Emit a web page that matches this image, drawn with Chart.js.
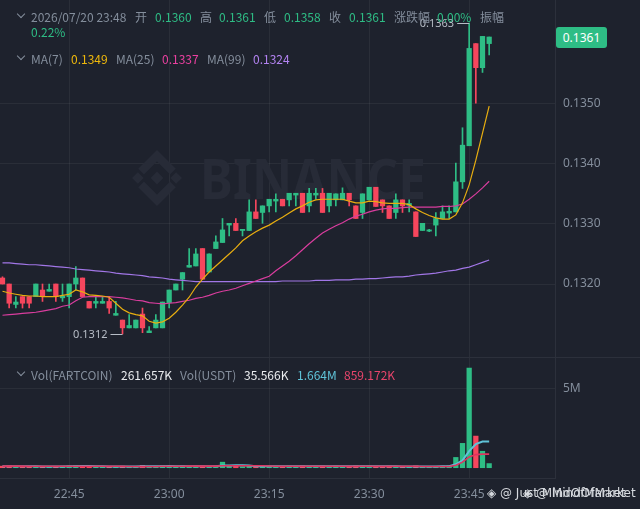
<!DOCTYPE html>
<html><head><meta charset="utf-8">
<script src="https://cdn.jsdelivr.net/npm/chart.js@4.4.1/dist/chart.umd.min.js"></script>
<style>
html,body{margin:0;padding:0;background:#1e222d;overflow:hidden;}
#wrap{position:relative;width:640px;height:509px;background:#1e222d;font-family:"Noto Sans CJK SC","Noto Sans",sans-serif;}
#pbox{position:absolute;left:0;top:0;width:640px;height:357px;}
#vbox{position:absolute;left:0;top:357px;width:640px;height:152px;}
.t{position:absolute;font-size:12px;line-height:14px;white-space:nowrap;color:#848e9c;z-index:5;}
.g{color:#2ebd85;}
.chev{position:absolute;width:5px;height:5px;border-right:1.3px solid #848e9c;border-bottom:1.3px solid #848e9c;transform:rotate(45deg);z-index:5;}
#badge{position:absolute;left:556px;top:27px;width:51px;height:21px;border-radius:3px;background:#2ebd85;color:#fff;font:12px "Noto Sans",sans-serif;line-height:21px;text-align:center;z-index:5;}
.wm{position:absolute;top:486px;font:12px "DejaVu Sans","Noto Sans",sans-serif;color:#d6d9de;white-space:nowrap;z-index:5;}
</style></head>
<body>
<div id="wrap">
 <div id="pbox"><canvas id="pc"></canvas></div>
 <div id="vbox"><canvas id="vc"></canvas></div>

 <div class="chev" style="left:18px;top:11px"></div>
 <div class="t" style="left:31px;top:10px">2026/07/20 23:48</div>
 <div class="t" style="left:135px;top:10px">开</div>
 <div class="t g" style="left:155px;top:10px">0.1360</div>
 <div class="t" style="left:200px;top:10px">高</div>
 <div class="t g" style="left:219px;top:10px">0.1361</div>
 <div class="t" style="left:264px;top:10px">低</div>
 <div class="t g" style="left:284px;top:10px">0.1358</div>
 <div class="t" style="left:329px;top:10px">收</div>
 <div class="t g" style="left:349px;top:10px">0.1361</div>
 <div class="t" style="left:394px;top:10px">涨跌幅</div>
 <div class="t g" style="left:437px;top:10px">0.00%</div>
 <div class="t" style="left:480px;top:10px">振幅</div>
 <div class="t g" style="left:31px;top:25px">0.22%</div>

 <div class="chev" style="left:18px;top:53px"></div>
 <div class="t" style="left:31px;top:52px">MA(7)</div>
 <div class="t" style="left:71px;top:52px;color:#f0b90b">0.1349</div>
 <div class="t" style="left:116px;top:52px">MA(25)</div>
 <div class="t" style="left:162px;top:52px;color:#eb40a0">0.1337</div>
 <div class="t" style="left:207px;top:52px">MA(99)</div>
 <div class="t" style="left:253px;top:52px;color:#b383f2">0.1324</div>

 <div id="badge">0.1361</div>

 <div class="chev" style="left:18px;top:369px"></div>
 <div class="t" style="left:31px;top:368px">Vol(FARTCOIN)</div>
 <div class="t" style="left:121px;top:368px;color:#eaecef">261.657K</div>
 <div class="t" style="left:180px;top:368px">Vol(USDT)</div>
 <div class="t" style="left:244px;top:368px;color:#eaecef">35.566K</div>
 <div class="t" style="left:297px;top:368px;color:#5fc3d8">1.664M</div>
 <div class="t" style="left:344px;top:368px;color:#e8456b">859.172K</div>

 <div class="wm" style="left:487px">◈ @ Just MindOfMarket</div>
 <div class="wm" style="left:523px">◈ @ MindOfMarket</div>
</div>
<script>
// ---------- data ----------
const times = ['22:35','22:36','22:37','22:38','22:39','22:40','22:41','22:42','22:43','22:44',
 '22:45','22:46','22:47','22:48','22:49','22:50','22:51','22:52','22:53','22:54',
 '22:55','22:56','22:57','22:58','22:59','23:00','23:01','23:02','23:03','23:04',
 '23:05','23:06','23:07','23:08','23:09','23:10','23:11','23:12','23:13','23:14',
 '23:15','23:16','23:17','23:18','23:19','23:20','23:21','23:22','23:23','23:24',
 '23:25','23:26','23:27','23:28','23:29','23:30','23:31','23:32','23:33','23:34',
 '23:35','23:36','23:37','23:38','23:39','23:40','23:41','23:42','23:43','23:44',
 '23:45','23:46','23:47','23:48'];
const tickLabels = ['22:45','23:00','23:15','23:30','23:45'];
const priceTicks = [0.1320,0.1330,0.1340,0.1350];
const volTicks = [5];

const openP = [0.13210,0.13200,0.13166,0.13179,0.13179,0.13179,0.13190,0.13188,0.13200,0.13177,
 0.13179,0.13200,0.13210,0.13171,0.13168,0.13168,0.13171,0.13148,0.13140,0.13127,
 0.13127,0.13150,0.13119,0.13127,0.13127,0.13169,0.13190,0.13208,0.13228,0.13230,
 0.13259,0.13220,0.13259,0.13269,0.13298,0.13301,0.13289,0.13289,0.13320,0.13319,
 0.13330,0.13338,0.13341,0.13340,0.13348,0.13351,0.13330,0.13348,0.13351,0.13330,
 0.13340,0.13340,0.13351,0.13330,0.13319,0.13340,0.13361,0.13340,0.13330,0.13319,
 0.13340,0.13331,0.13320,0.13289,0.13288,0.13298,0.13309,0.13318,0.13320,0.13370,
 0.13430,0.13600,0.13560,0.13600];
const highP = [0.13212,0.13200,0.13179,0.13179,0.13179,0.13200,0.13200,0.13200,0.13200,0.13200,
 0.13200,0.13229,0.13210,0.13171,0.13179,0.13179,0.13179,0.13171,0.13140,0.13149,
 0.13140,0.13160,0.13129,0.13149,0.13170,0.13190,0.13200,0.13219,0.13259,0.13259,
 0.13259,0.13250,0.13280,0.13309,0.13301,0.13309,0.13291,0.13340,0.13340,0.13330,
 0.13341,0.13350,0.13341,0.13351,0.13351,0.13351,0.13359,0.13359,0.13359,0.13351,
 0.13350,0.13360,0.13351,0.13330,0.13350,0.13361,0.13361,0.13340,0.13330,0.13350,
 0.13340,0.13340,0.13320,0.13301,0.13291,0.13319,0.13330,0.13330,0.13401,0.13460,
 0.13634,0.13600,0.13612,0.13611];
const lowP = [0.13200,0.13160,0.13160,0.13160,0.13160,0.13179,0.13171,0.13188,0.13171,0.13171,
 0.13160,0.13190,0.13179,0.13160,0.13160,0.13168,0.13151,0.13148,0.13117,0.13127,
 0.13127,0.13119,0.13119,0.13127,0.13127,0.13160,0.13190,0.13190,0.13228,0.13230,
 0.13208,0.13220,0.13259,0.13269,0.13280,0.13289,0.13280,0.13289,0.13309,0.13301,
 0.13320,0.13320,0.13330,0.13330,0.13330,0.13319,0.13320,0.13341,0.13319,0.13320,
 0.13330,0.13340,0.13330,0.13309,0.13309,0.13340,0.13329,0.13319,0.13309,0.13309,
 0.13319,0.13320,0.13279,0.13289,0.13287,0.13280,0.13309,0.13309,0.13320,0.13359,
 0.13430,0.13501,0.13552,0.13581];
const closeP = [0.13200,0.13168,0.13170,0.13168,0.13168,0.13200,0.13179,0.13191,0.13179,0.13180,
 0.13200,0.13210,0.13179,0.13160,0.13171,0.13171,0.13160,0.13151,0.13127,0.13131,
 0.13140,0.13127,0.13122,0.13140,0.13170,0.13190,0.13200,0.13219,0.13231,0.13250,
 0.13208,0.13250,0.13270,0.13290,0.13301,0.13289,0.13291,0.13320,0.13309,0.13330,
 0.13341,0.13341,0.13330,0.13351,0.13351,0.13319,0.13351,0.13351,0.13319,0.13351,
 0.13350,0.13351,0.13340,0.13309,0.13350,0.13361,0.13329,0.13330,0.13309,0.13340,
 0.13330,0.13334,0.13279,0.13301,0.13290,0.13309,0.13320,0.13321,0.13370,0.13431,
 0.13592,0.13560,0.13612,0.13611];

const ma7 = [0.13188,0.13185,0.13183,0.13181,0.13180,0.13180,0.13179,0.13179,0.13179,0.13181,
 0.13183,0.13190,0.13187,0.13182,0.13181,0.13180,0.13178,0.13168,0.13158,0.13152,
 0.13149,0.13147,0.13138,0.13135,0.13137,0.13143,0.13153,0.13165,0.13178,0.13195,
 0.13208,0.13220,0.13230,0.13240,0.13250,0.13260,0.13272,0.13280,0.13287,0.13293,
 0.13298,0.13305,0.13311,0.13318,0.13325,0.13330,0.13336,0.13340,0.13341,0.13341,
 0.13341,0.13341,0.13338,0.13335,0.13335,0.13338,0.13337,0.13335,0.13334,0.13334,
 0.13334,0.13332,0.13325,0.13319,0.13314,0.13310,0.13308,0.13308,0.13315,0.13335,
 0.13365,0.13406,0.13451,0.13496];
const ma25 = [0.13148,0.13149,0.13150,0.13151,0.13152,0.13153,0.13155,0.13157,0.13159,0.13163,
 0.13165,0.13172,0.13178,0.13179,0.13179,0.13179,0.13179,0.13178,0.13177,0.13175,
 0.13173,0.13172,0.13169,0.13168,0.13167,0.13168,0.13169,0.13171,0.13173,0.13176,
 0.13178,0.13181,0.13185,0.13188,0.13190,0.13193,0.13197,0.13201,0.13205,0.13209,
 0.13213,0.13222,0.13230,0.13238,0.13247,0.13257,0.13267,0.13276,0.13285,0.13291,
 0.13297,0.13302,0.13308,0.13313,0.13316,0.13320,0.13323,0.13325,0.13326,0.13326,
 0.13327,0.13328,0.13328,0.13328,0.13328,0.13328,0.13329,0.13329,0.13330,0.13333,
 0.13341,0.13350,0.13360,0.13371];
const ma99 = [0.13235,0.13235,0.13234,0.13233,0.13232,0.13232,0.13231,0.13230,0.13229,0.13228,
 0.13227,0.13225,0.13224,0.13223,0.13222,0.13221,0.13220,0.13218,0.13217,0.13216,
 0.13215,0.13214,0.13212,0.13211,0.13210,0.13208,0.13207,0.13206,0.13205,0.13204,
 0.13204,0.13204,0.13204,0.13204,0.13204,0.13204,0.13204,0.13204,0.13204,0.13204,
 0.13204,0.13204,0.13205,0.13205,0.13205,0.13205,0.13205,0.13206,0.13206,0.13206,
 0.13207,0.13207,0.13207,0.13208,0.13208,0.13209,0.13209,0.13210,0.13211,0.13212,
 0.13212,0.13213,0.13215,0.13216,0.13217,0.13218,0.13220,0.13222,0.13223,0.13226,
 0.13228,0.13232,0.13236,0.13240];

const volM = [0.10,0.12,0.06,0.08,0.07,0.10,0.09,0.05,0.08,0.10,
 0.11,0.14,0.13,0.08,0.06,0.05,0.09,0.06,0.10,0.05,
 0.08,0.15,0.06,0.09,0.13,0.10,0.08,0.12,0.09,0.10,
 0.11,0.08,0.10,0.35,0.12,0.09,0.06,0.12,0.10,0.08,
 0.11,0.07,0.09,0.10,0.06,0.12,0.09,0.07,0.11,0.08,
 0.10,0.07,0.09,0.12,0.10,0.11,0.09,0.06,0.10,0.08,
 0.07,0.05,0.12,0.08,0.06,0.09,0.10,0.12,0.65,1.54,
 6.30,2.00,1.04,0.262];
const volMa5 = [0.10,0.10,0.10,0.09,0.09,0.09,0.08,0.08,0.08,0.08,
 0.09,0.10,0.11,0.11,0.10,0.09,0.08,0.07,0.07,0.07,
 0.08,0.09,0.09,0.09,0.10,0.11,0.09,0.10,0.10,0.10,
 0.10,0.10,0.10,0.14,0.14,0.15,0.15,0.14,0.10,0.09,
 0.09,0.09,0.09,0.09,0.09,0.09,0.09,0.09,0.09,0.09,
 0.09,0.09,0.09,0.09,0.10,0.10,0.10,0.10,0.09,0.09,
 0.08,0.07,0.08,0.08,0.08,0.08,0.09,0.09,0.22,0.47,
 1.05,1.50,1.66,1.664];
const volMa10 = [0.10,0.10,0.10,0.10,0.09,0.09,0.09,0.09,0.09,0.09,
 0.09,0.09,0.09,0.09,0.09,0.09,0.09,0.09,0.09,0.08,
 0.08,0.08,0.08,0.08,0.09,0.09,0.09,0.09,0.10,0.10,
 0.10,0.10,0.10,0.12,0.12,0.12,0.12,0.12,0.12,0.12,
 0.11,0.09,0.09,0.09,0.09,0.09,0.09,0.09,0.09,0.09,
 0.09,0.09,0.09,0.09,0.09,0.09,0.09,0.09,0.09,0.09,
 0.09,0.09,0.09,0.08,0.08,0.08,0.08,0.08,0.16,0.35,
 0.68,0.83,0.86,0.859];

// ---------- styling ----------
const UP = '#2ebd85', DOWN = '#f6465d';
const GRID = 'rgba(255,255,255,0.055)', BORDER = '#2c303b', TXT = '#848e9c';
const XMIN = -0.375, XMAX = 82.875;
const PMIN = 0.1307854, PMAX = 0.1367255;
Chart.defaults.font.family = '"Noto Sans", sans-serif';

const idx = times.map((_, i) => i);
const col = idx.map(i => closeP[i] >= openP[i] ? UP : DOWN);
const tickIdx = tickLabels.map(l => times.indexOf(l));

const watermark = {
  id: 'wm',
  beforeDatasetsDraw(c) {
    const ctx = c.ctx; ctx.save();
    const fc = '#272b37';
    ctx.fillStyle = fc; ctx.strokeStyle = fc;
    const cx = 157, cy = 178, R = 29;
    const dia = (x, y, h) => { ctx.beginPath(); ctx.moveTo(x, y - h); ctx.lineTo(x + h, y); ctx.lineTo(x, y + h); ctx.lineTo(x - h, y); ctx.closePath(); ctx.fill(); };
    dia(cx, cy, R * 0.22); dia(cx - R * 0.66, cy, R * 0.2); dia(cx + R * 0.66, cy, R * 0.2);
    ctx.lineWidth = R * 0.28; ctx.lineJoin = 'miter'; ctx.lineCap = 'butt';
    ctx.beginPath(); ctx.moveTo(cx - R * 0.55, cy - R * 0.22); ctx.lineTo(cx, cy - R * 0.77); ctx.lineTo(cx + R * 0.55, cy - R * 0.22); ctx.stroke();
    ctx.beginPath(); ctx.moveTo(cx - R * 0.55, cy + R * 0.22); ctx.lineTo(cx, cy + R * 0.77); ctx.lineTo(cx + R * 0.55, cy + R * 0.22); ctx.stroke();
    ctx.font = 'bold 56px "Noto Sans"';
    const w = ctx.measureText('BINANCE').width;
    ctx.textBaseline = 'alphabetic';
    ctx.translate(200, 199); ctx.scale(226 / w, 1);
    ctx.fillText('BINANCE', 0, 0);
    ctx.restore();
  }
};

const hilo = {
  id: 'hilo',
  afterDatasetsDraw(c) {
    const { ctx, scales: { x, y } } = c;
    let hi = 0, lo = 0;
    highP.forEach((v, i) => { if (v > highP[hi]) hi = i; });
    lowP.forEach((v, i) => { if (v < lowP[lo]) lo = i; });
    ctx.save();
    ctx.strokeStyle = '#b7bdc6'; ctx.fillStyle = '#b7bdc6'; ctx.lineWidth = 1;
    ctx.font = '11px "Noto Sans"'; ctx.textAlign = 'right'; ctx.textBaseline = 'middle';
    [[hi, highP[hi]], [lo, lowP[lo]]].forEach(([i, v]) => {
      const px = x.getPixelForValue(i), py = Math.round(y.getPixelForValue(v)) + 0.5;
      ctx.beginPath(); ctx.moveTo(px, py); ctx.lineTo(px - 12, py); ctx.stroke();
      ctx.fillText(v.toFixed(4), px - 15, py);
    });
    ctx.restore();
  }
};

const sep = {
  id: 'sep',
  afterDraw(c) {
    const ctx = c.ctx; ctx.save();
    ctx.strokeStyle = BORDER; ctx.lineWidth = 1;
    ctx.beginPath(); ctx.moveTo(0, 0.5); ctx.lineTo(640, 0.5); ctx.stroke();
    ctx.restore();
  }
};

const lineDs = (data, color, w, order) => ({
  type: 'line', data: idx.map(i => ({ x: i, y: data[i] })), borderColor: color, borderWidth: w,
  pointRadius: 0, tension: 0, fill: false, order: order
});

new Chart(document.getElementById('pc'), {
  type: 'bar',
  data: {
    datasets: [
      { data: idx.map(i => ({ x: i, y: [lowP[i], highP[i]] })), backgroundColor: col, barThickness: 1, grouped: false, order: 5 },
      { data: idx.map(i => ({ x: i, y: [openP[i], closeP[i]] })), backgroundColor: col, barThickness: 4.6, minBarLength: 1, grouped: false, order: 4 },
      lineDs(ma99, '#a176e6', 1.2, 3),
      lineDs(ma25, '#d93d9e', 1.2, 2),
      lineDs(ma7, '#e8ae10', 1.2, 1)
    ]
  },
  options: {
    responsive: true, maintainAspectRatio: false, animation: false, events: [],
    layout: { padding: 0 },
    plugins: { legend: { display: false }, tooltip: { enabled: false } },
    scales: {
      x: {
        type: 'linear', min: XMIN, max: XMAX, offset: false,
        ticks: { display: false }, grid: { color: GRID, drawTicks: false, offset: false }, border: { display: false },
        afterBuildTicks: s => { s.ticks = tickIdx.map(v => ({ value: v })); },
        afterFit: s => { s.height = 0; s.paddingLeft = 0; s.paddingRight = 0; }
      },
      y: {
        position: 'right', min: PMIN, max: PMAX,
        afterBuildTicks: s => { s.ticks = priceTicks.map(v => ({ value: v })); },
        afterFit: s => { s.width = 85; s.paddingTop = 0; s.paddingBottom = 0; },
        ticks: { color: TXT, font: { size: 12 }, padding: 8, callback: v => Number(v).toFixed(4) },
        grid: { color: GRID, drawTicks: false }, border: { display: true, color: BORDER }
      }
    }
  },
  plugins: [watermark, hilo]
});

new Chart(document.getElementById('vc'), {
  type: 'bar',
  data: {
    datasets: [
      { data: idx.map(i => ({ x: i, y: volM[i] })), backgroundColor: col, barThickness: 4.6, grouped: false, order: 3 },
      lineDs(volMa5, '#5fc3d8', 2, 2),
      lineDs(volMa10, '#e0335f', 1.6, 1)
    ]
  },
  options: {
    responsive: true, maintainAspectRatio: false, animation: false, events: [],
    layout: { padding: 0 },
    plugins: { legend: { display: false }, tooltip: { enabled: false } },
    scales: {
      x: {
        type: 'linear', min: XMIN, max: XMAX, offset: false,
        afterBuildTicks: s => { s.ticks = tickIdx.map(v => ({ value: v })); },
        afterFit: s => { s.height = 31; s.paddingLeft = 0; s.paddingRight = 0; },
        ticks: { color: TXT, font: { size: 12 }, padding: 9, maxRotation: 0, autoSkip: false, callback: v => times[v] },
        grid: { color: GRID, drawTicks: false, offset: false }, border: { display: true, color: BORDER }
      },
      y: {
        position: 'right', min: -0.65, max: 7.0,
        afterBuildTicks: s => { s.ticks = volTicks.map(v => ({ value: v })); },
        afterFit: s => { s.width = 85; s.paddingTop = 0; s.paddingBottom = 0; },
        ticks: { color: TXT, font: { size: 12 }, padding: 8, callback: v => v + 'M' },
        grid: { color: GRID, drawTicks: false }, border: { display: true, color: BORDER }
      }
    }
  },
  plugins: [sep]
});
</script>
</body></html>
